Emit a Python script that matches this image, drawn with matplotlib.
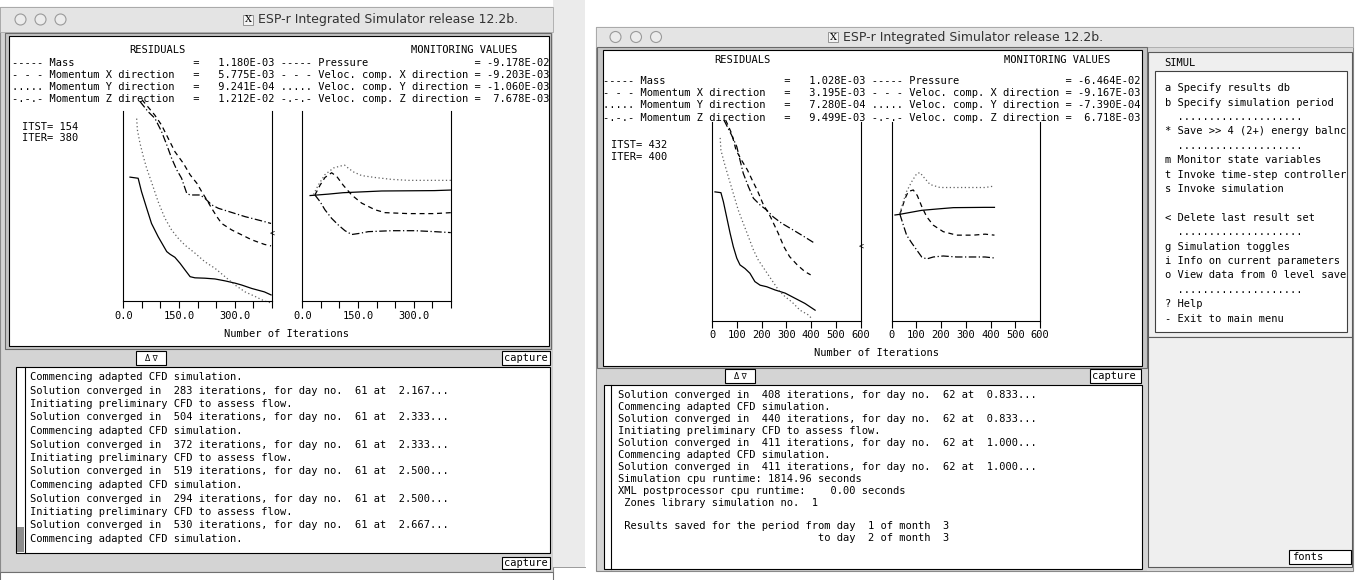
import matplotlib
matplotlib.use("Agg")
import matplotlib.pyplot as plt
from matplotlib.patches import Rectangle, Circle

# ---------------- data ----------------
# legend texts
line_keys = ["-----", "- - -", ".....", "-.-.-"]
res_names = ["Mass", "Momentum X direction", "Momentum Y direction", "Momentum Z direction"]
mon_names = ["Pressure", "Veloc. comp. X direction", "Veloc. comp. Y direction", "Veloc. comp. Z direction"]
res1_vals = ["1.180E-03", "5.775E-03", "9.241E-04", "1.212E-02"]
mon1_vals = ["-9.178E-02", "-9.203E-03", "-1.060E-03", "7.678E-03"]
res2_vals = ["1.028E-03", "3.195E-03", "7.280E-04", "9.499E-03"]
mon2_vals = ["-6.464E-02", "-9.167E-03", "-7.390E-04", "6.718E-03"]

# window 1 - residuals (log10 scale, arbitrary reference)
res1_mass_it = [18, 40, 49, 63, 76, 94, 117, 126, 139, 153, 166, 180, 193, 220, 247, 274, 301, 319, 346, 380, 398]
res1_mass = [-1.74, -1.77, -2.12, -2.56, -2.96, -3.31, -3.70, -3.77, -3.85, -4.01, -4.18, -4.36, -4.39, -4.40, -4.42, -4.47, -4.53, -4.58, -4.67, -4.76, -4.84]
res1_x_it = [50, 85, 103, 121, 139, 162, 180, 198, 211, 225, 238, 252, 265, 292, 319, 346, 380, 398]
res1_x = [0.3, -0.11, -0.37, -0.72, -1.07, -1.38, -1.68, -1.9, -2.12, -2.34, -2.56, -2.78, -2.96, -3.13, -3.26, -3.39, -3.51, -3.55]
res1_y_it = [36, 38, 45, 54, 63, 77, 94, 112, 130, 148, 166, 193, 220, 247, 274, 301, 328, 355, 380, 398]
res1_y = [-0.2, -0.5, -0.85, -1.2, -1.51, -1.9, -2.39, -2.82, -3.13, -3.35, -3.53, -3.74, -3.97, -4.14, -4.36, -4.58, -4.76, -4.88, -5.0, -5.05]
res1_z_it = [45, 67, 85, 103, 117, 130, 144, 157, 171, 180, 207, 220, 238, 256, 292, 328, 380, 398]
res1_z = [0.25, -0.02, -0.19, -0.54, -0.89, -1.24, -1.55, -1.77, -2.17, -2.21, -2.21, -2.30, -2.47, -2.56, -2.67, -2.78, -2.91, -2.96]

# window 1 - monitoring values (normalised)
mon1_p_it = [21, 70, 110, 214, 356, 400]
mon1_p = [0.11, 0.125, 0.14, 0.158, 0.162, 0.168]
mon1_x_it = [34, 48, 61, 79, 93, 110, 133, 160, 196, 223, 286, 356, 400]
mon1_x = [0.116, 0.22, 0.30, 0.35, 0.31, 0.22, 0.116, 0.03, -0.04, -0.07, -0.08, -0.08, -0.07]
mon1_y_it = [30, 43, 61, 84, 102, 114, 120, 137, 160, 196, 241, 286, 356, 400]
mon1_y = [0.12, 0.22, 0.33, 0.40, 0.42, 0.43, 0.41, 0.36, 0.32, 0.30, 0.28, 0.27, 0.27, 0.27]
mon1_z_it = [34, 48, 61, 79, 97, 115, 133, 151, 178, 241, 304, 356, 400]
mon1_z = [0.116, 0.045, -0.04, -0.13, -0.2, -0.26, -0.30, -0.29, -0.27, -0.26, -0.26, -0.27, -0.28]

# window 2 - residuals
res2_mass_it = [12, 36, 46, 59, 73, 86, 100, 113, 133, 153, 173, 194, 221, 254, 295, 335, 375, 416]
res2_mass = [-1.76, -1.78, -2.01, -2.39, -2.80, -3.14, -3.43, -3.60, -3.69, -3.81, -4.02, -4.11, -4.15, -4.23, -4.31, -4.44, -4.57, -4.74]
res2_x_it = [55, 80, 97, 120, 143, 165, 182, 205, 236, 267, 290, 313, 344, 375, 398]
res2_x = [0.05, -0.3, -0.71, -0.97, -1.21, -1.5, -1.71, -2.05, -2.39, -2.80, -3.14, -3.39, -3.60, -3.77, -3.85]
res2_y_it = [33, 36, 50, 66, 86, 106, 126, 147, 167, 187, 214, 241, 268, 295, 322, 355, 389, 402]
res2_y = [-0.4, -0.71, -1.04, -1.38, -1.80, -2.22, -2.55, -2.89, -3.22, -3.48, -3.73, -3.98, -4.23, -4.40, -4.53, -4.74, -4.86, -4.95]
res2_z_it = [48, 79, 100, 113, 126, 147, 167, 194, 221, 247, 281, 322, 362, 416]
res2_z = [0.05, -0.33, -0.62, -0.96, -1.29, -1.63, -1.92, -2.09, -2.22, -2.39, -2.55, -2.70, -2.85, -3.06]

# window 2 - monitoring values
mon2_p_it = [14, 34, 122, 196, 250, 378, 416]
mon2_p = [0.063, 0.07, 0.11, 0.126, 0.137, 0.14, 0.14]
mon2_x_it = [34, 55, 68, 88, 104, 122, 142, 169, 209, 263, 331, 378, 416]
mon2_x = [0.07, 0.23, 0.30, 0.315, 0.26, 0.15, 0.046, -0.04, -0.105, -0.14, -0.14, -0.13, -0.14]
mon2_y_it = [34, 48, 61, 82, 102, 115, 135, 156, 196, 263, 378, 416]
mon2_y = [0.08, 0.20, 0.30, 0.40, 0.48, 0.49, 0.43, 0.37, 0.34, 0.34, 0.34, 0.355]
mon2_z_it = [34, 48, 61, 82, 102, 122, 142, 169, 209, 263, 378, 416]
mon2_z = [0.07, -0.04, -0.14, -0.22, -0.29, -0.36, -0.38, -0.36, -0.35, -0.36, -0.36, -0.37]

# console texts
log1 = [
    "Commencing adapted CFD simulation.",
    "Solution converged in  283 iterations, for day no.  61 at  2.167...",
    "Initiating preliminary CFD to assess flow.",
    "Solution converged in  504 iterations, for day no.  61 at  2.333...",
    "Commencing adapted CFD simulation.",
    "Solution converged in  372 iterations, for day no.  61 at  2.333...",
    "Initiating preliminary CFD to assess flow.",
    "Solution converged in  519 iterations, for day no.  61 at  2.500...",
    "Commencing adapted CFD simulation.",
    "Solution converged in  294 iterations, for day no.  61 at  2.500...",
    "Initiating preliminary CFD to assess flow.",
    "Solution converged in  530 iterations, for day no.  61 at  2.667...",
    "Commencing adapted CFD simulation.",
]
log2 = [
    "Solution converged in  408 iterations, for day no.  62 at  0.833...",
    "Commencing adapted CFD simulation.",
    "Solution converged in  440 iterations, for day no.  62 at  0.833...",
    "Initiating preliminary CFD to assess flow.",
    "Solution converged in  411 iterations, for day no.  62 at  1.000...",
    "Commencing adapted CFD simulation.",
    "Solution converged in  411 iterations, for day no.  62 at  1.000...",
    "Simulation cpu runtime: 1814.96 seconds",
    "XML postprocessor cpu runtime:    0.00 seconds",
    " Zones library simulation no.  1",
    "",
    " Results saved for the period from day  1 of month  3",
    " " * 32 + "to day  2 of month  3",
]
menu = [
    "a Specify results db",
    "b Specify simulation period",
    "  ....................",
    "* Save >> 4 (2+) energy balnc",
    "  ....................",
    "m Monitor state variables",
    "t Invoke time-step controller",
    "s Invoke simulation",
    "",
    "< Delete last result set",
    "  ....................",
    "g Simulation toggles",
    "i Info on current parameters",
    "o View data from 0 level save",
    "  ....................",
    "? Help",
    "- Exit to main menu",
]

# ---------------- drawing ----------------
W, H = 1356, 580
MONO = "DejaVu Sans Mono"
FS = 7.5
TITLE = "ESP-r Integrated Simulator release 12.2b."

fig = plt.figure(figsize=(W / 100, H / 100), dpi=100)
bg = fig.add_axes([0, 0, 1, 1])
bg.set_xlim(0, W)
bg.set_ylim(H, 0)
bg.axis("off")


def box(x0, y0, x1, y1, fc="white", ec="black", lw=0.8, z=1):
    bg.add_patch(Rectangle((x0, y0), x1 - x0, y1 - y0, facecolor=fc,
                           edgecolor=ec, linewidth=lw, zorder=z))


def txt(x, y, s, size=FS, ha="left", **kw):
    bg.text(x, y, s, fontsize=size, family=MONO, ha=ha, va="center", zorder=5, **kw)


def px_axes(x0, y0, x1, y1):
    return fig.add_axes([x0 / W, 1 - y1 / H, (x1 - x0) / W, (y1 - y0) / H])


def title_bar(x0, x1, y0, y1, circ_x, icon_x):
    box(x0, y0, x1, y1, fc="#e4e4e4", ec="#a8a8a8", lw=0.6)
    yc = (y0 + y1) / 2
    for cx in circ_x:
        bg.add_patch(Circle((cx, yc), 5.5, facecolor="#ececec", edgecolor="#9a9a9a", lw=0.8, zorder=2))
    box(icon_x, yc - 5, icon_x + 10, yc + 5, fc="#f4f4f4", ec="#888888", lw=0.6, z=2)
    bg.text(icon_x + 5, yc, "X", fontsize=7, family="DejaVu Serif", ha="center", va="center", zorder=3)
    bg.text(icon_x + 15, yc, TITLE, fontsize=9, family="DejaVu Sans", color="#333333",
            ha="left", va="center", zorder=3)


styles = [("-", "black"), ((0, (4, 3)), "black"), ((0, (1, 2)), "#606060"), ((0, (6, 2, 1, 2)), "black")]


def style_axes(ax, xmax, step, lab_every, fmt, ylim):
    ax.set_xlim(0, xmax)
    ax.set_ylim(*ylim)
    ax.patch.set_alpha(0)
    ax.spines["top"].set_visible(False)
    for s in ["left", "right", "bottom"]:
        ax.spines[s].set_linewidth(0.8)
    ax.set_yticks([])
    ticks = list(range(0, xmax + 1, step))
    ax.set_xticks(ticks)
    ax.set_xticklabels([fmt(t) if t % lab_every == 0 else "" for t in ticks], family=MONO, fontsize=FS)
    ax.tick_params(axis="x", direction="out", length=5, width=0.8, pad=2)


def draw_window(rx, ry, mx, my, xmax, step, lab_every, fmt, res, mon):
    ax_r = px_axes(rx[0], ry[0], rx[1], ry[1])
    ax_m = px_axes(mx[0], my[0], mx[1], my[1])
    style_axes(ax_r, xmax, step, lab_every, fmt, (-5, 0))
    style_axes(ax_m, xmax, step, lab_every, fmt, (-1, 1))
    for (it, v), (ls, c) in zip(res, styles):
        ax_r.plot(it, v, linestyle=ls, color=c, lw=0.9, clip_on=False)
    for (it, v), (ls, c) in zip(mon, styles):
        ax_m.plot(it, v, linestyle=ls, color=c, lw=0.9, clip_on=False)


def legend_block(x, y_head, y_rows, res_vals, mon_vals, right_head_x, left_head_x):
    txt(left_head_x, y_head, "RESIDUALS", ha="center")
    txt(right_head_x, y_head, "MONITORING VALUES", ha="center")
    for i, y in enumerate(y_rows):
        k = line_keys[i]
        s = f"{k} {res_names[i]:<23s}=   {res_vals[i]} {k} {mon_names[i]:<25s}= {mon_vals[i]:>10s}"
        txt(x, y, s)


# ---- left window ----
box(0, 7, 553, 572, fc="#d4d4d4", ec="#8a8a8a", lw=0.8, z=0)
title_bar(0, 553, 7, 32, [20.5, 40.5, 60.5], 243)
box(5, 33, 551, 349, fc="#c4c4c4", ec="#6a6a6a")
box(9, 36, 549, 346, fc="white", ec="black")
legend_block(12.5, 50, [63, 75, 87, 99], res1_vals, mon1_vals, 464, 157)
txt(22, 127, "ITST= 154")
txt(22, 138, "ITER= 380")
txt(287, 334, "Number of Iterations", ha="center")
txt(272, 234, "<", size=6, ha="center")
box(136, 351, 166, 365)
bg.text(151, 358, "\u0394 \u2207", fontsize=5.5, ha="center", va="center", zorder=5)
box(502, 351, 550, 365)
txt(504, 358, "capture")
box(16, 367, 550, 553)
bg.plot([25, 25], [367, 553], color="black", lw=0.8, zorder=3)
box(17, 527, 24, 552, fc="#8c8c8c", ec="none", z=3)
for i, s in enumerate(log1):
    txt(29.5, 377 + 13.5 * i, s)
box(502, 557, 550, 569)
txt(504, 563, "capture")
box(0, 572, 553, 581, fc="white", ec="#707070")

draw_window((123.3, 271.8), (111, 301), (302.3, 450.8), (111, 301), 400, 50, 150,
            lambda t: f"{t:.1f}",
            [(res1_mass_it, res1_mass), (res1_x_it, res1_x), (res1_y_it, res1_y), (res1_z_it, res1_z)],
            [(mon1_p_it, mon1_p), (mon1_x_it, mon1_x), (mon1_y_it, mon1_y), (mon1_z_it, mon1_z)])

# ---- gap between windows ----
box(553, 0, 585, 567, fc="#ebebeb", ec="none", z=0)
bg.plot([553, 585], [567, 567], color="#9a9a9a", lw=0.7)

# ---- right window ----
box(596, 27, 1353, 571, fc="#d4d4d4", ec="#8a8a8a", lw=0.8, z=0)
title_bar(596, 1353, 27, 47, [615.5, 636, 656], 828)
box(597, 47, 1147, 368, fc="#c4c4c4", ec="#6a6a6a")
box(603, 50, 1142, 366, fc="white", ec="black")
legend_block(603, 60, [80.5, 93, 105.5, 118], res2_vals, mon2_vals, 1057, 742)
txt(611, 145, "ITST= 432")
txt(611, 157, "ITER= 400")
txt(876, 353, "Number of Iterations", ha="center")
txt(860.7, 247, "<", size=6, ha="center")
box(725, 369, 755, 383)
bg.text(740, 376, "\u0394 \u2207", fontsize=5.5, ha="center", va="center", zorder=5)
box(1090, 369, 1141, 383)
txt(1092, 376, "capture")
box(604, 385, 1142, 569)
bg.plot([611, 611], [385, 569], color="black", lw=0.8, zorder=3)
for i, s in enumerate(log2):
    txt(618.5, 395.5 + 11.9 * i, s)

# SIMUL menu panel
box(1147, 47, 1353, 571, fc="#d8d8d8", ec="none", z=0)
box(1148, 52, 1352, 337, fc="#efefef", ec="#5a5a5a")
txt(1164, 63, "SIMUL")
box(1155, 71, 1347, 332, fc="white", ec="#404040")
for i, s in enumerate(menu):
    txt(1165, 88.3 + 14.4 * i, s)
box(1148, 337, 1352, 567, fc="#efefef", ec="#5a5a5a")
box(1289, 550, 1351, 564)
txt(1292, 557, "fonts")

draw_window((712, 860.7), (122, 320.5), (891.5, 1040), (122, 320.5), 600, 100, 100,
            lambda t: f"{t:d}",
            [(res2_mass_it, res2_mass), (res2_x_it, res2_x), (res2_y_it, res2_y), (res2_z_it, res2_z)],
            [(mon2_p_it, mon2_p), (mon2_x_it, mon2_x), (mon2_y_it, mon2_y), (mon2_z_it, mon2_z)])

fig.savefig("out.png", dpi=100)
